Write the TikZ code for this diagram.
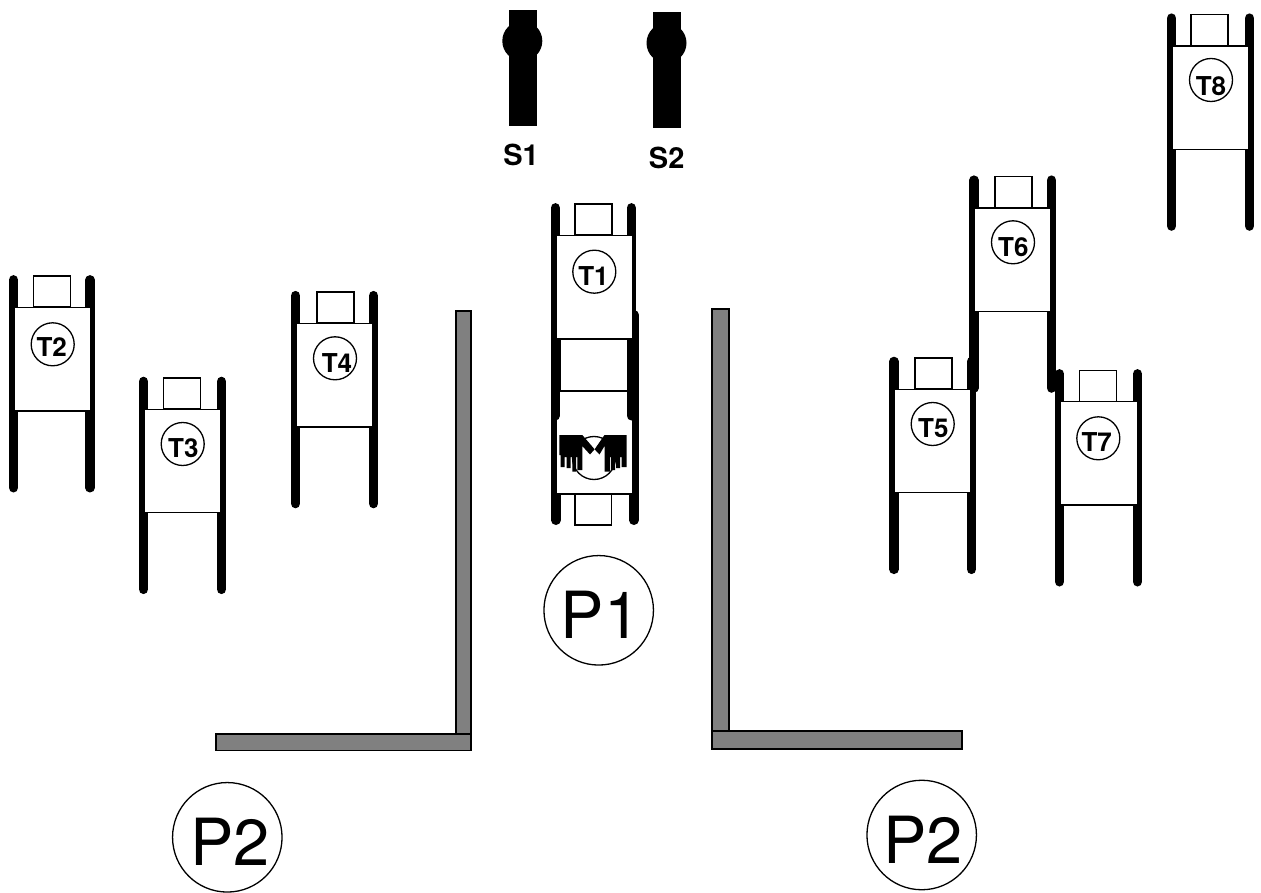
\documentclass[tikz,border=0pt]{standalone}
\usepackage{fontspec}
\setmainfont{TeX Gyre Heros}
\tikzset{
  rail/.style={line width=9.6pt,line cap=round,black},
  cart/.style={draw=black,fill=white,line width=1.4pt},
  wall/.style={draw=black,fill=black!50,line width=1.4pt},
  tag/.style={circle,draw=black,line width=1.3pt,minimum size=43pt,inner sep=0pt},
  taglabel/.style={inner sep=0pt,font=\bfseries\fontsize{26}{26}\selectfont},
  zone/.style={circle,draw=black,line width=1.3pt,minimum size=109.5pt,inner sep=0pt},
  zonelabel/.style={inner sep=0pt,font=\fontsize{65}{65}\selectfont},
  senslabel/.style={inner sep=0pt,font=\bfseries\fontsize{29}{29}\selectfont},
  glove/.style={fill=black,draw=none}
}
\begin{document}
\begin{tikzpicture}[x=1pt,y=-1pt]
\useasboundingbox (0,0) rectangle (1261,893);
% sensors
\fill (509,10) rectangle (536.7,126);
\fill (522.3,41) circle (20);
\fill (653,12.5) rectangle (680.7,128);
\fill (666.5,43) circle (20);
\node[senslabel] (s1) at (521,155) {S1};
\node[senslabel] (s2) at (666.7,157.5) {S2};
% walls
\draw[wall] (456,311) rectangle (471,734);
\draw[wall] (216,734) rectangle (471,750.5);
\draw[wall] (712,309) rectangle (729,731);
\draw[wall] (712,731) rectangle (962,749);
% reversed truck at P1
\draw[rail] (555.8,314.8)--(555.8,520.2);
\draw[rail] (633.8,314.8)--(633.8,520.2);
\draw[cart] (575,494) rectangle (611.7,525);
\draw[cart] (556,391) rectangle (633,494);
\draw[line width=1.3pt] (594,458) circle (21.5);
% gloves
\fill[glove] (559.3,435)--(582.3,435)--(594.6,449.3)--(590,454.5)--(582.3,446)--(582.3,470)--(577.3,470)--(577.3,457)--(576,457)--(576,471.7)--(572.3,471.7)--(572.3,457)--(570.7,457)--(570.7,468)--(566.7,468)--(566.7,457)--(564.7,457)--(564.7,467)--(560.7,467)--(560.7,455)--(559.3,455)--cycle;
\fill[glove] (626.5,435)--(604.5,435)--(594.6,449.3)--(599.5,454.5)--(604.5,446)--(604.5,471.5)--(610,471.5)--(610,457)--(611,457)--(611,470)--(615,470)--(615,457)--(616,457)--(616,468)--(620,468)--(620,457)--(621.7,457)--(621.7,467)--(626.5,467)--cycle;
% trucks: name/body x/body y/left rail/right rail/box x/circle x/circle y/text x/text y/label
\foreach \n/\bx/\by/\rl/\rr/\bl/\cx/\cy/\tx/\ty/\lab in {
  t1/556/235.7/555.3/631.3/575/594.3/271.7/593.5/276/T1,
  t2/14/307.7/13.5/90/33.3/52.7/344.3/51.7/346.7/T2,
  t3/144/409.3/143.5/221.5/163.3/182.7/444/183.3/448.3/T3,
  t4/296/323.5/295.5/373.5/317/335/358.3/337/363/T4,
  t5/894/389.3/894/971.5/915/932.7/424/933.3/428.3/T5,
  t7/1060.3/401.7/1059.5/1137.5/1079.3/1098.3/438.3/1096.7/441.7/T7,
  t6/974/208/974/1051.5/995/1013/242.3/1013.3/246.7/T6,
  t8/1172/46/1171.5/1249.5/1191/1211/80/1211/86/T8}{
  \draw[rail] (\rl,\by-27.8)--(\rl,\by+180);
  \draw[rail] (\rr,\by-27.8)--(\rr,\by+180);
  \draw[cart] (\bl,\by-31.5) rectangle (\bl+37,\by-0.5);
  \draw[cart] (\bx,\by) rectangle (\bx+77,\by+103.3);
  \node[tag] (\n) at (\cx,\cy) {};
  \node[taglabel] (\n label) at (\tx,\ty) {\lab};
}
% zones
\node[zone] (p1) at (598.7,610.3) {};
\node[zonelabel] (p1label) at (600.4,615) {P1};
\node[zone] (p2a) at (227.3,837.3) {};
\node[zonelabel] (p2alabel) at (230,842) {P2};
\node[zone] (p2b) at (921.7,835) {};
\node[zonelabel] (p2blabel) at (923,839.5) {P2};
\end{tikzpicture}
\end{document}
